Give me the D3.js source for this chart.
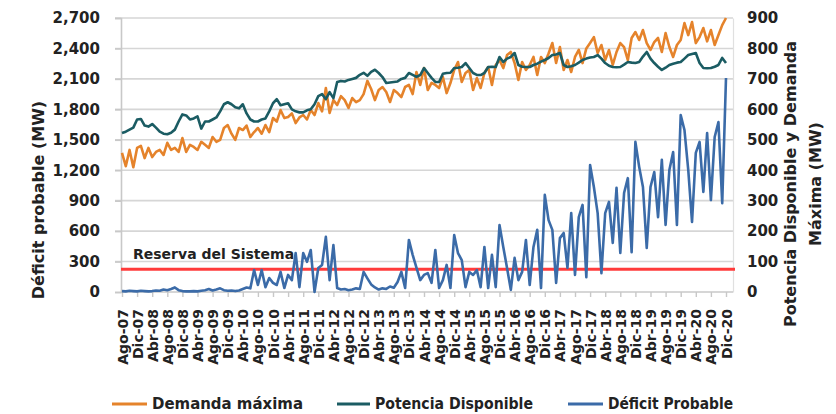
<!DOCTYPE html>
<html>
<head>
<meta charset="utf-8">
<script src="https://cdn.jsdelivr.net/npm/d3@7"></script>
<style>
  body { margin: 0; background: #fff; }
  svg { display: block; font-family: "DejaVu Sans", sans-serif; font-weight: bold; }
</style>
</head>
<body>
<svg id="chart" width="836" height="414"></svg>
<script>
// months Ago-07 .. Dic-20 (161 months)
var monthNames = ["Ene","Feb","Mar","Abr","May","Jun","Jul","Ago","Sep","Oct","Nov","Dic"];
var tickLabels = ["Ago-07","Dic-07","Abr-08","Ago-08","Dic-08","Abr-09","Ago-09","Dic-09","Abr-10","Ago-10",
  "Dic-10","Abr-11","Ago-11","Dic-11","Abr-12","Ago-12","Dic-12","Abr-13","Ago-13","Dic-13",
  "Abr-14","Ago-14","Dic-14","Abr-15","Ago-15","Dic-15","Abr-16","Ago-16","Dic-16","Abr-17",
  "Ago-17","Dic-17","Abr-18","Ago-18","Dic-18","Abr-19","Ago-19","Dic-19","Abr-20","Ago-20","Dic-20"];
var leftTicks = [0,300,600,900,1200,1500,1800,2100,2400,2700];
var rightTicks = [0,100,200,300,400,500,600,700,800,900];

// Demanda maxima (left scale, MW)
var demanda = [1370,1240,1400,1230,1420,1440,1320,1420,1330,1380,1400,1350,1470,1400,1420,1380,1517,1380,1450,1429,
  1400,1480,1450,1420,1527,1480,1500,1616,1645,1560,1500,1616,1596,1640,1527,1576,1616,1560,1645,1576,
  1714,1680,1793,1714,1724,1760,1665,1720,1744,1700,1793,1744,1862,1780,2010,1764,1891,1842,1930,1891,
  1813,1911,1870,1891,1950,2080,2000,1891,1990,2020,1970,1872,1990,1960,1921,2020,2040,1950,2168,2040,
  2207,1990,2060,2040,2010,2118,1960,2059,2188,2266,2069,2158,2188,1990,2108,2010,2158,2217,2040,2237,
  2286,2207,2335,2365,2256,2089,2266,2188,2237,2316,2138,2316,2256,2350,2453,2256,2414,2188,2286,2168,
  2316,2385,2256,2400,2453,2512,2355,2434,2286,2385,2237,2365,2453,2414,2286,2503,2562,2483,2581,2453,
  2385,2463,2503,2365,2552,2414,2316,2434,2483,2650,2532,2660,2453,2512,2601,2470,2581,2434,2532,2630,
  2700];

// Potencia Disponible (left scale, MW)
var potencia = [1567,1580,1600,1620,1700,1705,1640,1630,1655,1620,1580,1560,1555,1570,1600,1680,1750,1740,1700,1710,
  1730,1610,1680,1680,1700,1720,1780,1850,1870,1850,1820,1810,1850,1760,1700,1680,1680,1700,1710,1780,
  1860,1900,1840,1850,1860,1800,1780,1770,1770,1790,1800,1850,1930,1950,1900,1970,1910,2070,2080,2075,
  2090,2100,2110,2140,2160,2130,2170,2190,2158,2118,2060,2065,2070,2075,2100,2110,2158,2140,2120,2138,
  2207,2158,2110,2070,2070,2150,2158,2160,2207,2210,2217,2256,2207,2158,2140,2138,2158,2217,2220,2217,
  2316,2266,2300,2316,2355,2237,2220,2217,2217,2237,2250,2270,2286,2306,2335,2340,2355,2237,2217,2225,
  2237,2260,2286,2300,2310,2316,2335,2300,2256,2230,2217,2215,2217,2240,2266,2260,2256,2266,2320,2365,
  2300,2256,2220,2188,2210,2237,2250,2260,2266,2300,2335,2345,2355,2256,2207,2205,2207,2220,2237,2306,
  2256];

// Deficit Probable (right scale, MW)
var deficit = [3,2,4,3,2,4,3,2,3,5,4,8,6,10,15,6,3,2,2,3,
  2,4,6,10,5,8,12,6,4,5,3,5,10,15,12,72,23,72,16,46,
  30,23,66,13,56,39,128,16,128,99,138,0,79,89,181,39,154,13,8,10,
  6,8,12,10,66,45,25,15,8,12,10,18,14,33,66,13,171,122,80,39,
  56,62,30,138,13,39,89,13,187,128,105,16,66,56,72,16,148,13,122,16,
  220,148,79,7,112,39,66,171,23,148,204,13,319,236,204,30,177,194,79,259,
  56,246,286,49,417,345,259,62,259,296,161,342,128,325,374,131,493,411,345,145,
  345,394,246,434,220,401,460,220,581,532,401,230,457,493,329,522,302,509,558,292,
  703];

var reserva = 75; // right scale

var categories = [];
for (var k = 0; k < demanda.length; k++) {
  var m = (7 + k) % 12, yr = 7 + Math.floor((7 + k) / 12);
  categories.push(monthNames[m] + "-" + (yr < 10 ? "0" + yr : "" + yr));
}

var svg = d3.select("#chart");
var plotL = 121, plotR = 733, plotT = 18, plotB = 292;

var x = d3.scalePoint().domain(categories).range([122, 726]);
var yL = d3.scaleLinear().domain([0, 2700]).range([plotB, plotT]);
var yR = d3.scaleLinear().domain([0, 900]).range([plotB, plotT]);

// gridlines
svg.append("g").selectAll("line")
  .data(leftTicks.slice(1))
  .enter().append("line")
  .attr("x1", plotL - 6).attr("x2", plotR)
  .attr("y1", function(d) { return yL(d); })
  .attr("y2", function(d) { return yL(d); })
  .attr("stroke", "#d6d6d6").attr("stroke-width", 1.6);

// left axis
var gl = svg.append("g").attr("transform", "translate(" + plotL + ",0)")
  .call(d3.axisLeft(yL).tickValues(leftTicks).tickSize(6).tickPadding(15).tickFormat(d3.format(",")));
gl.select(".domain").attr("stroke", "#c8c8c8").attr("stroke-width", 1.6);
gl.selectAll(".tick line").attr("stroke", "#c8c8c8").attr("stroke-width", 1.6);
gl.selectAll("text").attr("font-size", 15).attr("font-family", "DejaVu Sans").attr("font-weight", "bold").attr("fill", "#222");

// right axis
var gr = svg.append("g").attr("transform", "translate(" + plotR + ",0)")
  .call(d3.axisRight(yR).tickValues(rightTicks).tickSize(0).tickPadding(14));
gr.select(".domain").attr("stroke", "#e0e0e0").attr("stroke-width", 1.2);
gr.selectAll("text").attr("font-size", 15).attr("font-family", "DejaVu Sans").attr("font-weight", "bold").attr("fill", "#222");

// bottom axis
var tickCats = categories.filter(function(d, i) { return i % 4 === 0; });
var gb = svg.append("g").attr("transform", "translate(0," + plotB + ")")
  .call(d3.axisBottom(x).tickValues(tickCats).tickSize(5)
    .tickFormat(function(d, i) { return tickLabels[i]; }));
gb.select(".domain").attr("d", "M" + plotL + ",0H" + plotR).attr("stroke", "#c8c8c8").attr("stroke-width", 1.6);
gb.selectAll(".tick line").attr("stroke", "#c8c8c8").attr("stroke-width", 1.4);
gb.selectAll("text")
  .attr("font-size", 14).attr("font-family", "DejaVu Sans").attr("font-weight", "bold").attr("fill", "#222")
  .attr("transform", "rotate(-90)")
  .attr("text-anchor", "end")
  .attr("x", -17).attr("y", 0).attr("dy", "0.36em");

// reserva line
svg.append("line")
  .attr("x1", plotL).attr("x2", plotR + 2)
  .attr("y1", yR(reserva)).attr("y2", yR(reserva))
  .attr("stroke", "#ff3b3b").attr("stroke-width", 3);
svg.append("text").attr("x", 133).attr("y", yR(reserva) - 10)
  .attr("font-size", 14).attr("fill", "#222").text("Reserva del Sistema");

// lines
var lineL = d3.line().x(function(d, i) { return x(categories[i]); }).y(function(d) { return yL(d); });
var lineR = d3.line().x(function(d, i) { return x(categories[i]); }).y(function(d) { return yR(d); });

svg.append("path").datum(demanda).attr("d", lineL)
  .attr("fill", "none").attr("stroke", "#e5832b").attr("stroke-width", 2.6).attr("stroke-linejoin", "round");
svg.append("path").datum(potencia).attr("d", lineL)
  .attr("fill", "none").attr("stroke", "#1b5c63").attr("stroke-width", 2.6).attr("stroke-linejoin", "round");
svg.append("path").datum(deficit).attr("d", lineR)
  .attr("fill", "none").attr("stroke", "#3b6ba8").attr("stroke-width", 2.6).attr("stroke-linejoin", "round");

// axis titles
svg.append("text")
  .attr("transform", "translate(44,200) rotate(-90)")
  .attr("text-anchor", "middle").attr("font-size", 16).attr("fill", "#222")
  .text("Déficit probable (MW)");
svg.append("text")
  .attr("transform", "translate(796,184) rotate(-90)")
  .attr("text-anchor", "middle").attr("font-size", 16).attr("fill", "#222")
  .text("Potencia Disponible y Demanda");
svg.append("text")
  .attr("transform", "translate(821,184) rotate(-90)")
  .attr("text-anchor", "middle").attr("font-size", 16).attr("fill", "#222")
  .text("Máxima (MW)");

// legend
var legend = [
  {name: "Demanda máxima", color: "#e5832b", x1: 112, x2: 147, tx: 152, w: 151},
  {name: "Potencia Disponible", color: "#1b5c63", x1: 337, x2: 370, tx: 375, w: 158},
  {name: "Déficit Probable", color: "#3b6ba8", x1: 568, x2: 603, tx: 608, w: 125}
];
var lg = svg.append("g");
legend.forEach(function(l) {
  lg.append("line").attr("x1", l.x1).attr("x2", l.x2).attr("y1", 404).attr("y2", 404)
    .attr("stroke", l.color).attr("stroke-width", 3);
  lg.append("text").attr("x", l.tx).attr("y", 409)
    .attr("font-size", 15).attr("fill", "#222")
    .attr("textLength", l.w).attr("lengthAdjust", "spacingAndGlyphs")
    .text(l.name);
});
</script>
</body>
</html>
